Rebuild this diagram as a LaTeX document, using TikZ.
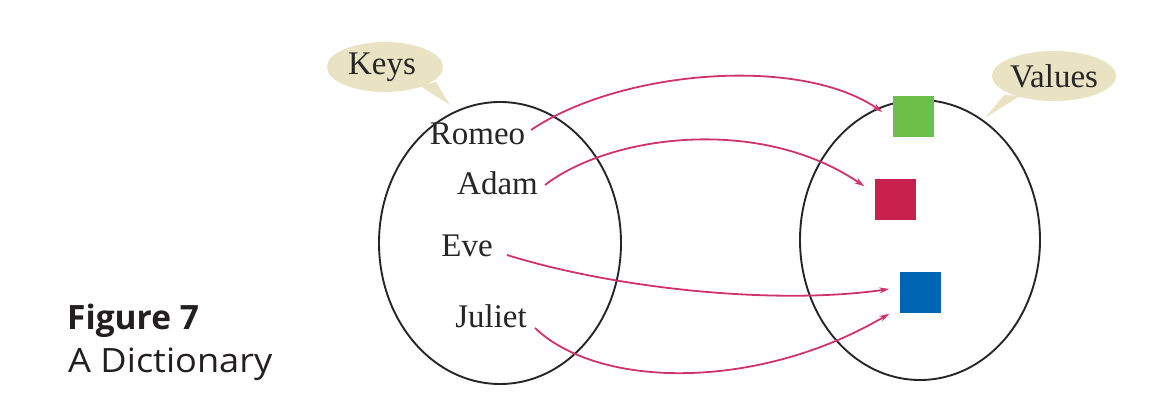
\documentclass[tikz,border=0pt]{standalone}
\usepackage{fontspec}
\setmainfont{Liberation Serif}
\newfontfamily\capfont{Open Sans}
\usetikzlibrary{arrows.meta,calc,shapes.geometric}
\definecolor{bubble}{HTML}{E9E3C4}
\definecolor{arrowc}{HTML}{D0336A}
\definecolor{sqgreen}{HTML}{6CC04A}
\definecolor{sqred}{HTML}{C8214E}
\definecolor{sqblue}{HTML}{0066B3}
\definecolor{captxt}{HTML}{231F20}
\tikzset{
  lbl/.style={font=\fontsize{33}{36}\selectfont, inner sep=0pt, anchor=base, text=black!85},
  sq/.style={minimum size=41pt, inner sep=0pt, draw=none},
  set/.style={draw=black!85, line width=1.9pt},
  map/.style={draw=arrowc, line width=1.8pt, -{Stealth[length=10pt,width=6pt]}},
  captionstyle/.style={text=captxt, anchor=base west, inner sep=0pt},
}
\begin{document}
\begin{tikzpicture}[x=1pt,y=-1pt]
\useasboundingbox (0,0) rectangle (1161,411);
% callouts
\fill[bubble] (420,86) -- (450,105) -- (436,82) -- cycle;
\fill[bubble] (385,67) ellipse [x radius=58, y radius=25];
\node[lbl] (keys) at (382,75) {Keys};
\fill[bubble] (1004,95) -- (985,118) -- (1020,96) -- cycle;
\fill[bubble] (1054,76) ellipse [x radius=62, y radius=25];
\node[lbl] (values) at (1054,88) {Values};
% sets
\node[set, ellipse, minimum width=242pt, minimum height=282pt, inner sep=0pt] (keyset) at (500,243) {};
\node[set, ellipse, minimum width=240pt, minimum height=280pt, inner sep=0pt] (valset) at (920,240) {};
% keys
\node[lbl] (romeo) at (477.5,145) {Romeo};
\node[lbl] (adam) at (497.5,195) {Adam};
\node[lbl] (eve) at (467,257) {Eve};
\node[lbl] (juliet) at (491,327) {Juliet};
% values
\node[sq, fill=sqgreen] (green) at (913,117) {};
\node[sq, fill=sqred] (red) at (895,200) {};
\node[sq, fill=sqblue] (blue) at (920,293) {};
% arrows
\draw[map] (531,130) .. controls (620,70) and (800,55) .. ($(green.west)+(-10,-5)$);
\draw[map] (545,185) .. controls (610,135) and (760,115) .. ($(red.north west)+(-10,7)$);
\draw[map] (507,255) .. controls (620,290) and (780,305) .. ($(blue.west)+(-10,-4)$);
\draw[map] (535,328) .. controls (600,390) and (760,390) .. ($(blue.south west)+(-10,0)$);
% caption
\node[captionstyle, font=\capfont\bfseries\fontsize{33.5}{40}\selectfont] (figno) at (67,330) {Figure 7};
\node[captionstyle, xscale=1.08, font=\capfont\fontsize{33.5}{40}\selectfont] (figtitle) at (68,372) {A Dictionary};
\end{tikzpicture}
\end{document}
